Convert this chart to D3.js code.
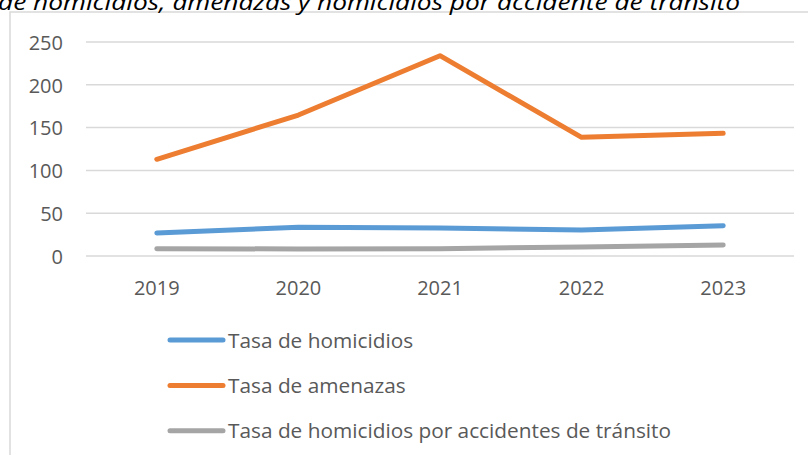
<!DOCTYPE html>
<html>
<head>
<meta charset="utf-8">
<script src="https://cdn.jsdelivr.net/npm/d3@7"></script>
<style>
  body { margin: 0; background: #fff; }
  text { font-family: "Open Sans", sans-serif; fill: #595959; }
</style>
</head>
<body>
<div id="chart-area"></div>
<script>
// data
const years = ["2019", "2020", "2021", "2022", "2023"]
const homicidios = [26.9, 33.5, 32.7, 30.4, 35.4]
const amenazas = [113, 164.7, 234, 138.6, 143.3]
const transito = [8.6, 8.2, 8.6, 10.5, 12.8]
const seriesNames = ["Tasa de homicidios", "Tasa de amenazas", "Tasa de homicidios por accidentes de tránsito"]
const seriesColors = ["#5b9bd5", "#ed7d31", "#a5a5a5"]
const yTicks = [0, 50, 100, 150, 200, 250]
const titleText = "de homicidios, amenazas y homicidios por accidente de tránsito"

const WIDTH = 808
const HEIGHT = 455
const PLOT = { LEFT: 86, RIGHT: 794, TOP: 42, BOTTOM: 256 }

const svg = d3.select("#chart-area").append("svg")
	.attr("width", WIDTH)
	.attr("height", HEIGHT)

// chart frame (runs off the right/bottom edge)
svg.append("rect")
	.attr("x", 10)
	.attr("y", 12)
	.attr("width", 820)
	.attr("height", 460)
	.attr("fill", "#fff")
	.attr("stroke", "#d9d9d9")
	.attr("stroke-width", 1.5)

// cut-off title
svg.append("text")
	.attr("x", -2)
	.attr("y", 9.5)
	.attr("font-size", "22px")
	.attr("font-style", "italic")
	.style("fill", "#000")
	.attr("textLength", 742)
	.attr("lengthAdjust", "spacingAndGlyphs")
	.text(titleText)

// scales
const x = d3.scaleBand().domain(years).range([PLOT.LEFT, PLOT.RIGHT])
const y = d3.scaleLinear().domain([0, 250]).range([PLOT.BOTTOM, PLOT.TOP])

// gridlines
svg.append("g")
	.selectAll("line")
	.data(yTicks)
	.join("line")
	.attr("x1", PLOT.LEFT)
	.attr("x2", PLOT.RIGHT)
	.attr("y1", d => y(d))
	.attr("y2", d => y(d))
	.attr("stroke", "#d9d9d9")
	.attr("stroke-width", 1.5)

// y axis labels
const yAxis = svg.append("g")
	.attr("transform", "translate(63, 0)")
	.call(d3.axisLeft(y).tickValues(yTicks).tickSize(0).tickPadding(0))
yAxis.select(".domain").remove()
yAxis.selectAll("text")
	.attr("font-size", "20px")
	.attr("dy", "0.36em")
	.style("font-family", "'Open Sans', sans-serif")
	.attr("fill", "#595959")

// x axis labels
const xAxis = svg.append("g")
	.attr("transform", `translate(0, ${PLOT.BOTTOM})`)
	.call(d3.axisBottom(x).tickSize(0).tickPadding(0))
xAxis.select(".domain").remove()
xAxis.selectAll("text")
	.attr("y", 39)
	.attr("dy", 0)
	.attr("font-size", "20px")
	.style("font-family", "'Open Sans', sans-serif")
	.attr("fill", "#595959")

// lines
const allSeries = [homicidios, amenazas, transito]
const line = d3.line()
	.x((d, i) => x(years[i]) + x.bandwidth() / 2)
	.y(d => y(d))

// draw gray first, then blue, then orange on top
const order = [2, 0, 1]
svg.append("g")
	.selectAll("path")
	.data(order)
	.join("path")
	.attr("d", k => line(allSeries[k]))
	.attr("fill", "none")
	.attr("stroke", k => seriesColors[k])
	.attr("stroke-width", 5)
	.attr("stroke-linecap", "round")
	.attr("stroke-linejoin", "round")

// legend
const legend = svg.append("g")
	.selectAll("g")
	.data(seriesNames)
	.join("g")
	.attr("transform", (d, i) => `translate(170, ${340 + i * 45.4})`)

legend.append("line")
	.attr("x1", 0)
	.attr("x2", 53)
	.attr("stroke", (d, i) => seriesColors[i])
	.attr("stroke-width", 5)
	.attr("stroke-linecap", "round")

legend.append("text")
	.attr("x", 58)
	.attr("y", 7.5)
	.attr("font-size", "20.8px")
	.text(d => d)
</script>
</body>
</html>
